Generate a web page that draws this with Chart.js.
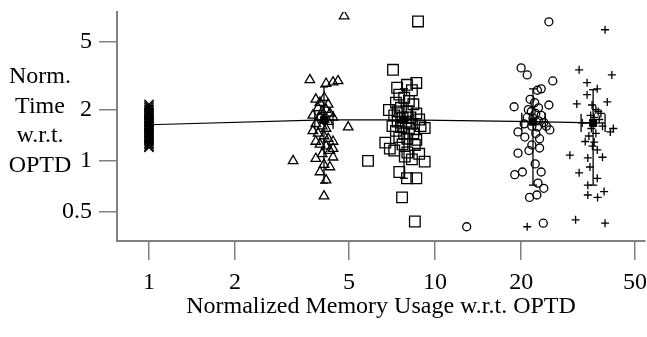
<!DOCTYPE html>
<html>
<head>
<meta charset="utf-8">
<script src="https://cdn.jsdelivr.net/npm/chart.js@4/dist/chart.umd.min.js"></script>
<style>
  html, body { margin: 0; padding: 0; background: #fff; }
  canvas { display: block; }
</style>
</head>
<body>
<canvas id="chart" width="647" height="337"></canvas>
<script>
// memory vs time scatter, log-log

const xTicks = [1, 2, 5, 10, 20, 50];
const yTicks = [0.5, 1, 2, 5];
const xTitle = 'Normalized Memory Usage w.r.t. OPTD';
const yTitle = ['Norm.', 'Time', 'w.r.t.', 'OPTD'];

// x = 1 for every point of the first group
const crossY = [2.15, 2.1, 2.05, 2.0, 1.97, 1.93, 1.9, 1.87, 1.84, 1.8, 1.78, 1.75, 1.72, 1.7,
  1.68, 1.65, 1.62, 1.6, 1.58, 1.55, 1.52, 1.5, 1.47, 1.45, 1.42, 1.4, 1.37, 1.35, 1.32, 1.3,
  1.27, 1.25, 1.22, 1.2];

const triangles = [[4.81, 7.1], [3.65, 2.99], [4.16, 2.85], [4.4, 2.9], [4.58, 2.95],
  [3.83, 2.3], [3.96, 2.2], [4.1, 2.35], [4.23, 2.15], [3.9, 2.05], [4.03, 1.95], [4.16, 2.0],
  [4.29, 1.9], [3.74, 1.85], [3.96, 1.8], [4.09, 1.75], [4.23, 1.7], [4.4, 1.8], [3.83, 1.65],
  [4.03, 1.6], [4.16, 1.55], [4.97, 1.58], [3.9, 1.45], [4.09, 1.4], [3.74, 1.5], [4.23, 1.35],
  [3.83, 1.3], [3.96, 1.25], [4.16, 1.22], [4.29, 1.15], [4.4, 1.18], [4.03, 1.1], [3.19, 1.0],
  [3.83, 1.03], [4.09, 0.95], [4.29, 0.92], [3.96, 0.86], [4.16, 0.77], [4.09, 0.62],
  [4.4, 1.3], [4.4, 1.05]];

const squares = [[8.72, 6.6], [7.13, 3.43], [7.37, 2.69], [7.98, 2.8], [8.6, 2.87], [8.3, 2.6],
  [7.5, 2.45], [7.8, 2.35], [8.1, 2.25], [7.3, 2.2], [8.4, 2.15], [6.9, 1.99], [7.6, 2.05],
  [8.0, 1.95], [8.6, 1.9], [7.2, 1.85], [7.7, 1.8], [8.2, 1.8], [8.8, 1.75], [7.4, 1.7],
  [7.9, 1.7], [8.3, 1.65], [7.1, 1.6], [7.6, 1.58], [8.1, 1.55], [9.2, 1.56], [7.3, 1.5],
  [7.8, 1.45], [8.4, 1.45], [6.7, 1.28], [7.5, 1.38], [8.0, 1.35], [8.6, 1.33], [6.95, 1.18],
  [7.7, 1.25], [8.5, 1.24], [7.2, 1.15], [8.0, 1.12], [7.84, 1.06], [9.2, 0.99], [8.3, 1.02],
  [5.83, 1.0], [7.5, 0.86], [7.98, 0.79], [8.6, 0.79], [7.67, 0.61], [8.5, 0.44], [8.8, 1.1],
  [7.4, 1.95], [8.9, 1.6]];

const circles = [[25, 6.57], [20, 3.52], [21, 3.2], [25.8, 2.95], [22.8, 2.6], [23.5, 2.65],
  [18.9, 2.08], [25, 2.13], [21.5, 2.3], [22.3, 2.2], [23, 2.05], [21.7, 1.95], [22.5, 1.9],
  [23.5, 1.85], [21, 1.8], [22, 1.78], [23, 1.72], [24, 1.68], [20.5, 1.65], [21.8, 1.6],
  [22.8, 1.58], [24.5, 1.6], [19.5, 1.48], [20.6, 1.38], [25.2, 1.52], [23.2, 1.35],
  [19.5, 1.11], [21.3, 1.15], [23.2, 1.19], [21.8, 1.24], [22.4, 0.96], [23.5, 0.86],
  [19, 0.83], [20.2, 0.86], [22.9, 0.74], [24, 0.69], [22.7, 0.63], [21.4, 0.61],
  [23.9, 0.43], [12.9, 0.41], [22.5, 1.45], [21.2, 2.0]];

const pluses = [[39.3, 5.9], [31.9, 3.43], [41.5, 3.2], [34, 2.88], [34, 2.45], [31.3, 2.16],
  [36.9, 2.65], [40, 2.22], [35.4, 2.13], [36.5, 2.0], [37.2, 1.95], [38, 1.9], [35, 1.85],
  [36, 1.8], [37.5, 1.75], [32.7, 1.67], [38.5, 1.6], [41, 1.48], [42, 1.55], [35.2, 1.55],
  [36.5, 1.45], [34.5, 1.4], [36, 1.29], [36.9, 1.16], [35.5, 1.22], [29.6, 1.08], [34.2, 1.04],
  [34.8, 0.92], [31.9, 0.85], [36.9, 0.79], [34.2, 0.72], [34.2, 0.63], [37, 0.61], [39, 0.66],
  [31, 0.45], [39.3, 0.43], [21, 0.41], [38.5, 1.05], [33.5, 1.3]];

// group means and spreads (first group has no visible bars)
const meanX = [1, 4.09, 7.79, 22.0, 35.7];
const meanY = [1.63, 1.74, 1.74, 1.70, 1.67];
const errYLow = [null, 0.74, 0.79, 0.72, 0.72];
const errYHigh = [null, 2.72, 2.65, 2.65, 2.62];
const errXLow = [null, 3.8, 7.3, 20.1, 32.4];
const errXHigh = [null, 4.4, 8.3, 24.3, 39.3];

const axisGray = '#808080';
const serif = "'Liberation Serif', 'Times New Roman', serif";

const toPts = arr => arr.map(p => ({ x: p[0], y: p[1] }));

function markerSet(data, style, radius) {
    return {
        data: data,
        pointStyle: style,
        pointRadius: radius,
        pointBorderWidth: 1.3,
        pointBorderColor: '#000',
        pointBackgroundColor: 'transparent',
        showLine: false
    };
}

const datasets = [];

// mean line with filled markers
datasets.push({
    data: meanX.map((x, i) => ({ x: x, y: meanY[i] })),
    showLine: true,
    borderColor: '#000',
    borderWidth: 1.2,
    pointStyle: 'rect',
    pointRadius: [0, 5, 5, 5, 5],
    pointBackgroundColor: '#000',
    pointBorderColor: '#000',
    pointBorderWidth: 1
});

// error bars
meanX.forEach((x, i) => {
    if (errYLow[i] === null) return;
    datasets.push({
        data: [{ x: x, y: errYLow[i] }, { x: x, y: errYHigh[i] }],
        showLine: true,
        borderColor: '#000',
        borderWidth: 1.3,
        pointStyle: 'line',
        pointRadius: 4,
        pointBorderColor: '#000',
        pointBorderWidth: 1.3
    });
    datasets.push({
        data: [{ x: errXLow[i], y: meanY[i] }, { x: errXHigh[i], y: meanY[i] }],
        showLine: true,
        borderColor: '#000',
        borderWidth: 1.3,
        pointStyle: 'line',
        pointRotation: 90,
        pointRadius: 9,
        pointBorderColor: '#000',
        pointBorderWidth: 1.3
    });
});

datasets.push(markerSet(crossY.map(y => ({ x: 1, y: y })), 'crossRot', 6.5));
datasets.push(markerSet(toPts(triangles), 'triangle', 5.5));
datasets.push(markerSet(toPts(squares), 'rect', 7.5));
datasets.push(markerSet(toPts(circles), 'circle', 4));
datasets.push(markerSet(toPts(pluses), 'cross', 4));

// y title is horizontal, stacked lines on the left
const yTitlePlugin = {
    id: 'yTitle',
    afterDraw(chart) {
        const ctx = chart.ctx;
        ctx.save();
        ctx.font = '24px ' + serif;
        ctx.fillStyle = '#000';
        ctx.textAlign = 'center';
        ctx.textBaseline = 'alphabetic';
        yTitle.forEach((line, i) => {
            ctx.fillText(line, 40, 83 + i * 29.5);
        });
        ctx.restore();
    }
};

new Chart(document.getElementById('chart'), {
    type: 'scatter',
    data: { datasets: datasets },
    plugins: [yTitlePlugin],
    options: {
        responsive: false,
        animation: false,
        layout: { autoPadding: false, padding: { top: 12, right: 2, left: 0, bottom: 0 } },
        plugins: { legend: { display: false }, tooltip: { enabled: false } },
        scales: {
            x: {
                type: 'logarithmic',
                bounds: 'data',
                min: 0.773,
                max: 54.2,
                border: { color: axisGray, width: 2 },
                grid: { drawOnChartArea: false, drawTicks: true, tickLength: 19, color: axisGray, lineWidth: 1.5 },
                ticks: {
                    color: '#000',
                    font: { family: serif, size: 24 },
                    padding: 8,
                    maxRotation: 0,
                    autoSkip: false,
                    callback: v => String(v)
                },
                afterBuildTicks: s => { s.ticks = xTicks.map(v => ({ value: v })); },
                afterFit: s => {
                    s.height = 96;
                    s.paddingLeft = 0;
                    s.paddingRight = 0;
                },
                title: {
                    display: true,
                    text: xTitle,
                    color: '#000',
                    font: { family: serif, size: 24 },
                    padding: { top: 0, bottom: 16 }
                }
            },
            y: {
                type: 'logarithmic',
                bounds: 'data',
                min: 0.338,
                max: 7.5,
                border: { color: axisGray, width: 2 },
                grid: { drawOnChartArea: false, drawTicks: true, tickLength: 18, color: axisGray, lineWidth: 1.5 },
                ticks: {
                    color: '#000',
                    font: { family: serif, size: 24 },
                    padding: 7,
                    autoSkip: false,
                    callback: v => String(v)
                },
                afterBuildTicks: s => { s.ticks = yTicks.map(v => ({ value: v })); },
                afterFit: s => {
                    s.width = 117;
                    s.paddingTop = 0;
                    s.paddingBottom = 0;
                }
            }
        }
    }
});
</script>
</body>
</html>
